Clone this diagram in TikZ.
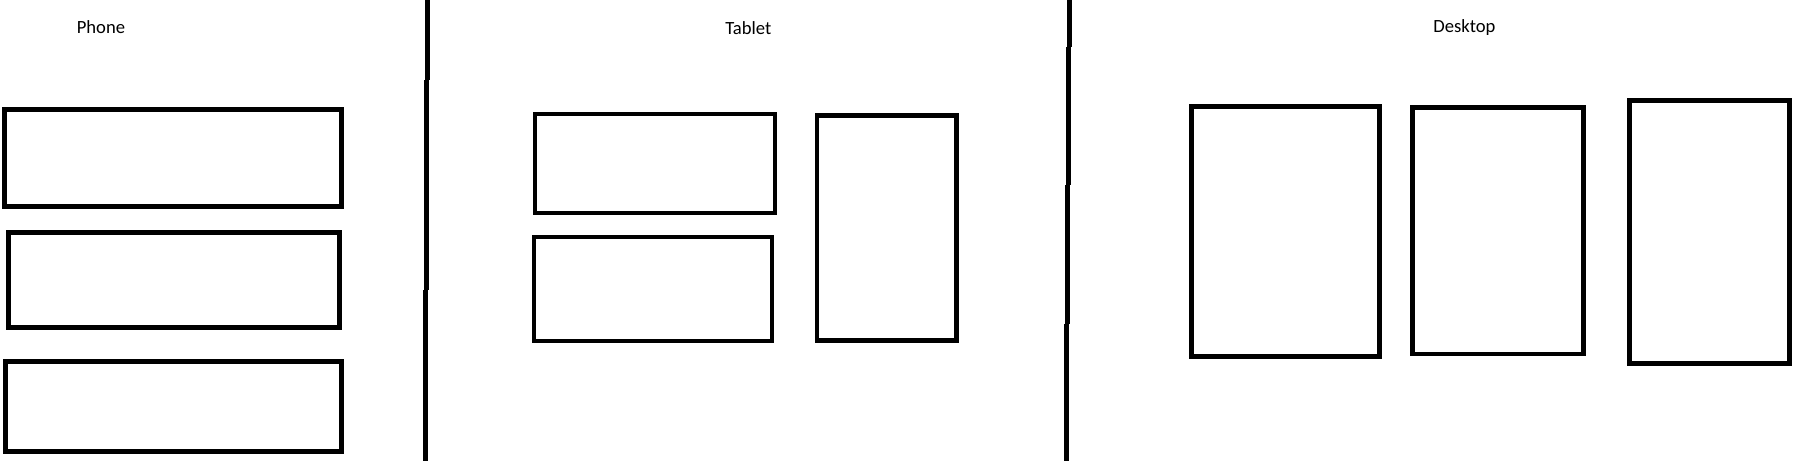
\documentclass[tikz,border=0pt]{standalone}
\usepackage{fontspec}
\setmainfont{Carlito}
\usepackage{tikz}

\begin{document}
\begin{tikzpicture}[x=0.02cm,y=-0.02cm,line width=2.65pt]
\useasboundingbox (0,0) rectangle (1807,461);
% headings
\node[anchor=base west,inner sep=0pt,font=\fontsize{10.6}{13}\selectfont] (phone) at (74.5,33) {Phone};
\node[anchor=base west,inner sep=0pt,font=\fontsize{10.6}{13}\selectfont] (tablet) at (723,34.5) {Tablet};
\node[anchor=base west,inner sep=0pt,font=\fontsize{10.6}{13}\selectfont] (desktop) at (1431,32.5) {Desktop};
% dividers
\draw (427.5,0) -- (427.5,80) (426.3,80) -- (426.3,290) (425.7,290) -- (425.7,461);
\draw (1069.5,0) -- (1069.5,47) (1068.7,47) -- (1068.7,185) (1067.7,185) -- (1067.7,324) (1066.3,324) -- (1066.3,461);
% phone
\foreach \a/\b/\c/\d in {4.3/109.5/341.3/206.5, 8.3/232.5/339.7/327.3, 5.3/361.5/341.3/451.3}
  \draw (\a,\b) rectangle (\c,\d);
% tablet
\foreach \a/\b/\c/\d in {535/114/775/213, 534/237/772/341, 817/115.5/956.5/340.5}
  \draw (\a,\b) rectangle (\c,\d);
% desktop
\foreach \a/\b/\c/\d in {1191.5/106.5/1379.5/356.5, 1412.5/107.5/1583.5/354, 1629.5/100.5/1789.5/363.5}
  \draw (\a,\b) rectangle (\c,\d);
\end{tikzpicture}
\end{document}
